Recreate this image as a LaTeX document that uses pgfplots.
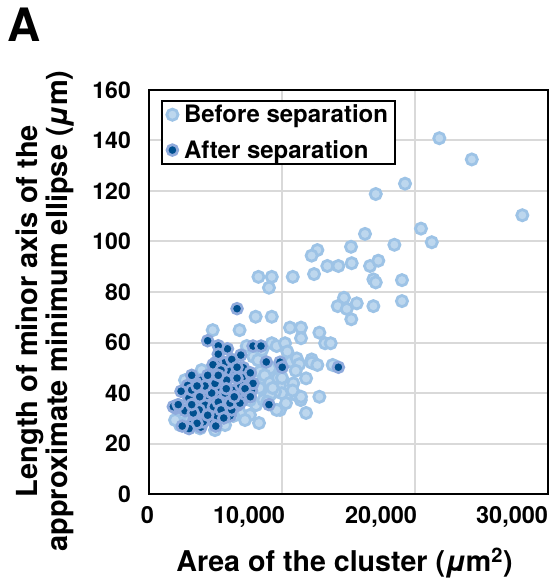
\documentclass[border=0pt]{standalone}
\usepackage{fontspec}
\setmainfont{TeX Gyre Heros}
\usepackage{pgfplots}
\pgfplotsset{compat=1.18}
\definecolor{beforefill}{HTML}{BDD7EE}
\definecolor{beforeline}{HTML}{9DC3E6}
\definecolor{afterfill}{HTML}{00508F}
\definecolor{afterline}{HTML}{8FAADC}
\definecolor{gridgrey}{HTML}{D9D9D9}
\newcommand{\xl}[2]{\hbox to 0pt{\hss #2\kern-#1pt}}
\begin{document}
\begin{tikzpicture}[x=1pt,y=1pt]
\path[use as bounding box] (0,0) rectangle (552,587);
\node[font=\fontsize{46}{46}\selectfont\bfseries,anchor=base west,inner sep=0pt] at (7,545) {A};
\begin{axis}[
  at={(149pt,93pt)},anchor=south west,
  scale only axis,width=399pt,height=404pt,
  xmin=0,xmax=30000,ymin=0,ymax=160,
  scaled x ticks=false,
  axis line style={black,line width=2.6pt},
  major tick length=0pt,
  xtick={0,10000,20000,30000},
  xticklabels={{\xl{5}{0}},{\xl{3}{10,000}},{\xl{2}{20,000}},{\xl{0}{30,000}}},
  ytick={0,20,40,60,80,100,120,140,160},
  yticklabels={0,20,40,60,80,100,120,140,160},
  xticklabel style={font=\fontsize{23.5}{23.5}\selectfont\bfseries,anchor=north,inner sep=0pt,yshift=-12pt,text height=17pt},
  yticklabel style={font=\fontsize{23}{23}\selectfont\bfseries,anchor=east,inner sep=0pt,xshift=-18pt},
  grid=major,
  grid style={gridgrey,line width=2pt},
  xlabel={Area of the cluster ({\itshape μ}m\textsuperscript{2})},
  xlabel style={font=\fontsize{28.6}{28.6}\selectfont\bfseries,at={(axis description cs:0.49,-0.171)},anchor=center,inner sep=0pt},
  ylabel={Length of minor axis of the\\approximate minimum ellipse ({\itshape μ}m)},
  ylabel style={font=\fontsize{29}{30}\selectfont\bfseries,at={(axis description cs:-0.2607,0.453)},anchor=center,align=center,inner sep=0pt},
  clip=false,
  legend style={at={(axis description cs:0.0296,0.9752)},anchor=north west,draw=black,line width=2pt,fill=white,
    font=\fontsize{24}{24}\selectfont\bfseries,inner xsep=5pt,inner ysep=2pt,row sep=12pt,
    /tikz/every even column/.append style={column sep=8pt}},
  legend cell align=left,
]
\addplot[only marks,mark=*,mark size=5.6pt,mark options={fill=beforefill,draw=beforeline,line width=2.8pt}] table {
x y
21830 140.9
24270 132.5
19250 122.9
17050 118.8
28070 110.4
20450 105.1
21260 99.7
16240 103
18450 98.7
15190 97.9
12660 96.6
12230 94.4
15240 91.4
13410 90.3
14240 90.3
16620 90.3
17240 92.4
16870 85
17050 83.8
12410 87.1
10810 86
9230 86
8230 86
9020 81.7
19020 84.7
19020 76.4
14660 77.7
14190 74.4
14870 73.3
15620 75.5
16870 74.4
15210 69.2
9230 70.2
8020 70.2
10600 65.9
11430 65.9
11430 61.7
12810 63.9
13240 59.7
13660 59.7
9230 59.7
9600 58.6
10230 59.7
10400 56.4
10660 52.4
11110 53.7
11300 51.4
11030 48.8
12230 53.3
12230 52
12660 51.1
13810 51.1
11810 45.8
10850 43.8
9480 43.8
9350 47.1
8600 45.1
9850 42.9
10430 39.5
9980 39.9
11050 39.2
11410 37.2
11430 38.5
12810 38.5
9850 33.3
11810 32.1
8270 28.1
4790 64.9
6810 64.9
3960 49.1
2710 45.1
7350 58.6
7840 54.4
8720 41.9
9480 40.5
8350 48.4
9100 49.8
8050 35.2
7590 31.3
6840 32
6340 30.9
3840 26
2330 27.3
2460 32
8600 37.2
9600 33.3
1960 29.3
3080 29.3
4960 25.3
5720 27.3
7220 29.3
7590 37.2
6090 47.1
6840 43.2
3840 39.2
4960 37.2
8500 57
9100 39.2
8200 53
8700 47
9100 44
9700 46
8300 42
10000 46
8900 36.5
9300 42
10300 36
10800 41
};
\addlegendentry{\hspace*{4pt}Before separation}
\addplot[only marks,mark=*,mark size=5.4pt,mark options={fill=afterfill,draw=afterline,line width=2.7pt}] table {
x y
3600 37
4000 41
4600 37
5000 40
5500 37
5900 38
6300 41
6600 35
7000 39
7300 44
6000 49
5700 52
6900 55
7100 50
5000 52
4600 45
3900 45
3000 38
2700 33
3400 30
4200 30
4800 29
5100 31
5800 33
6500 47
5600 44
3500 44
2900 43
4500 33
3800 36
3900 26.5
6100 31
7000 46
6900 43
7700 41
7000 37
4900 47.5
4400 39
2000 34
3200 27.5
5400 42
5900 57.5
6220 33.3
3210 41.2
4710 40
4210 35.2
3780 33.3
6090 36
6840 36
1830 34.6
4840 34.6
3330 32.1
4080 28.6
5720 40
5840 45.1
4960 43.8
6620 73.4
4410 60.7
5210 58.7
5210 55.4
6220 53.3
6620 50.2
4810 51.2
5410 49.1
3210 47
4410 47
5210 47
6620 45.9
7620 48
7820 58.6
8420 58.6
8820 52.3
7820 43.8
7220 41.7
7620 38.5
6410 38.5
5810 41.7
4210 42.8
3610 42.8
2410 40.7
3810 38.5
5210 36.4
3210 35.4
2200 35.4
4410 31.2
5410 33.3
5620 30.1
5020 26.9
3610 28
3010 25.9
2500 26.9
9020 35.4
9850 52.2
10020 50.2
14240 50.2
};
\addlegendentry{\hspace*{4pt}\rule[-11pt]{0pt}{1pt}After separation}
\end{axis}
\end{tikzpicture}
\end{document}
